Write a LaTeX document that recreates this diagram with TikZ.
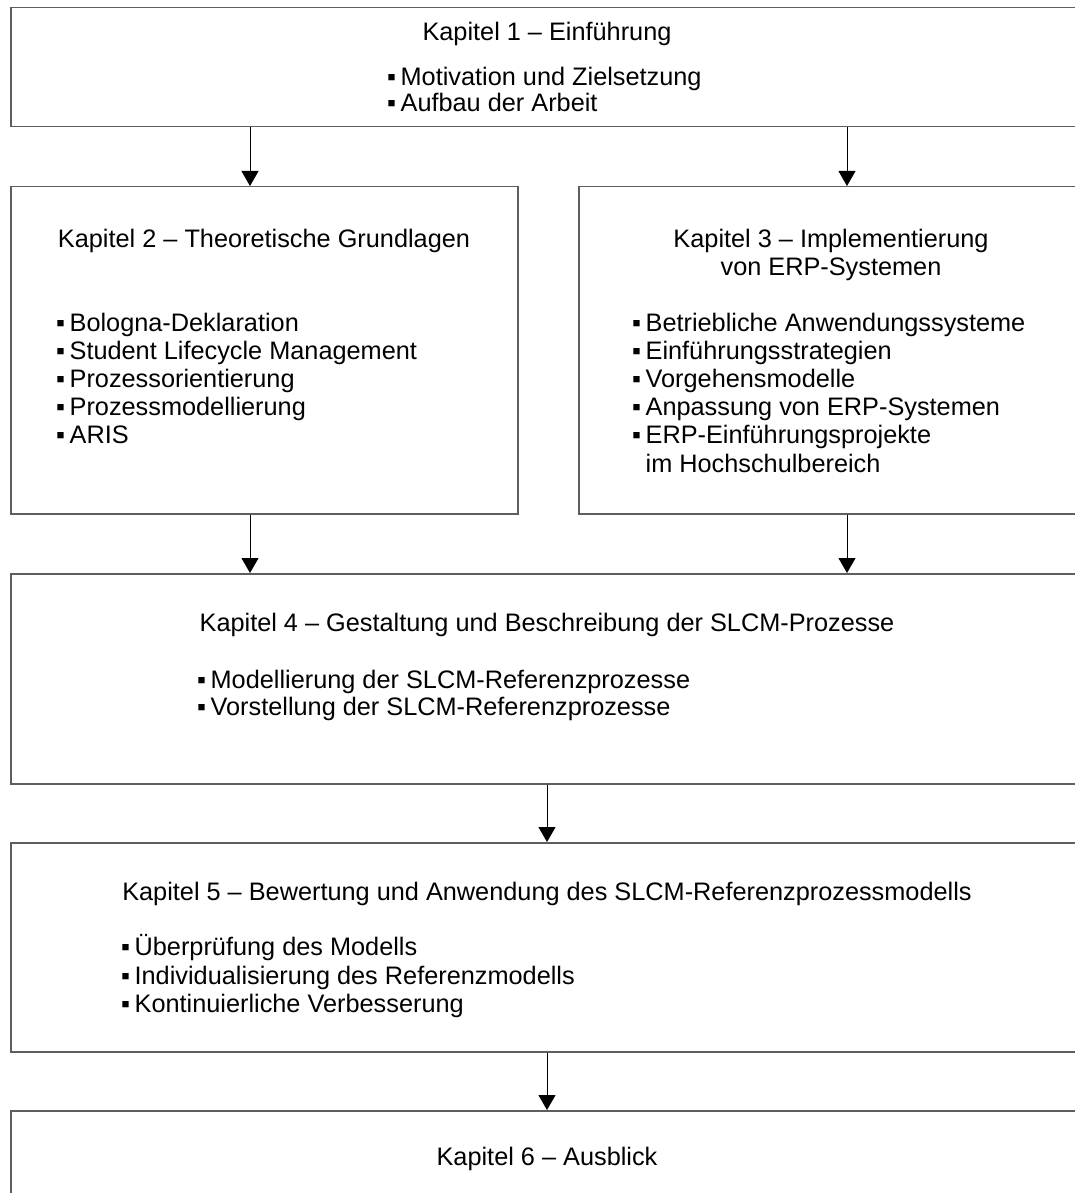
\documentclass[tikz,border=0pt]{standalone}
\usepackage{fontspec}
\setmainfont{Liberation Sans}
\usetikzlibrary{arrows.meta}
\definecolor{boxgray}{HTML}{5E5E5E}
\newcommand{\bul}{▪\hspace{4.5pt}}
\begin{document}
\begin{tikzpicture}[x=1pt,y=-1pt,
  chapbox/.style={draw=boxgray, line width=1.5pt, rectangle, inner sep=0pt, anchor=north west},
  line/.style={anchor=base west, inner sep=0pt, font=\fontsize{25.3}{28}\selectfont},
  title/.style={anchor=base, inner sep=0pt, font=\fontsize{25.3}{28}\selectfont},
  arr/.style={-{Triangle[width=17pt,length=15pt]}, line width=1pt, black}]
\useasboundingbox (0,0) rectangle (1075,1193);
\clip (0,0) rectangle (1075,1193);

% chapter frames
\node[chapbox, minimum width=1074pt, minimum height=119pt] (b1) at (10,7) {};
\node[chapbox, minimum width=507pt, minimum height=327pt] (b2) at (10,186) {};
\node[chapbox, minimum width=506pt, minimum height=327pt] (b3) at (578,186) {};
\node[chapbox, minimum width=1074pt, minimum height=210pt] (b4) at (10,573) {};
\node[chapbox, minimum width=1074pt, minimum height=209pt] (b5) at (10,842) {};
\node[chapbox, minimum width=1074pt, minimum height=160pt] (b6) at (10,1110) {};

% chapter 1
\node[title] (t1) at (547,41) {Kapitel 1 – Einführung};
\node[line] (b1l1) at (387,86) {\bul Motivation und Zielsetzung};
\node[line] (b1l2) at (387,112) {\bul Aufbau der Arbeit};

% chapter 2
\node[title] (t2) at (264,247) {Kapitel 2 – Theoretische Grundlagen};
\foreach \txt [count=\i] in {Bologna-Deklaration, Student Lifecycle Management,
  Prozessorientierung, Prozessmodellierung, ARIS}
  \node[line] (b2l\i) at (56,{331+28.2*(\i-1)}) {\bul\txt};

% chapter 3
\node[title] (t3a) at (831,247) {Kapitel 3 – Implementierung};
\node[title] (t3b) at (831,275) {von ERP-Systemen};
\foreach \txt [count=\i] in {Betriebliche Anwendungssysteme, Einführungsstrategien,
  Vorgehensmodelle, Anpassung von ERP-Systemen, ERP-Einführungsprojekte,
  {\phantom{\bul}im Hochschulbereich}}
  \node[line] (b3l\i) at (632,{331+28.2*(\i-1)}) {\ifnum\i<6 \bul\fi\txt};

% chapter 4
\node[title] (t4) at (547,631) {Kapitel 4 – Gestaltung und Beschreibung der SLCM-Prozesse};
\node[line] (b4l1) at (197,688) {\bul Modellierung der SLCM-Referenzprozesse};
\node[line] (b4l2) at (197,715) {\bul Vorstellung der SLCM-Referenzprozesse};

% chapter 5
\node[title] (t5) at (547,900) {Kapitel 5 – Bewertung und Anwendung des SLCM-Referenzprozessmodells};
\node[line] (b5l1) at (121,955) {\bul Überprüfung des Modells};
\node[line] (b5l2) at (121,984) {\bul Individualisierung des Referenzmodells};
\node[line] (b5l3) at (121,1012) {\bul Kontinuierliche Verbesserung};

% chapter 6
\node[title] (t6) at (547,1165) {Kapitel 6 – Ausblick};

% connectors
\coordinate (xl) at (250,0);
\coordinate (xr) at (847,0);
\coordinate (xm) at (547,0);
\draw[arr] (b1.south -| xl) -- (b2.north -| xl);
\draw[arr] (b1.south -| xr) -- (b3.north -| xr);
\draw[arr] (b2.south -| xl) -- (b4.north -| xl);
\draw[arr] (b3.south -| xr) -- (b4.north -| xr);
\draw[arr] (b4.south -| xm) -- (b5.north -| xm);
\draw[arr] (b5.south -| xm) -- (b6.north -| xm);
\end{tikzpicture}
\end{document}
